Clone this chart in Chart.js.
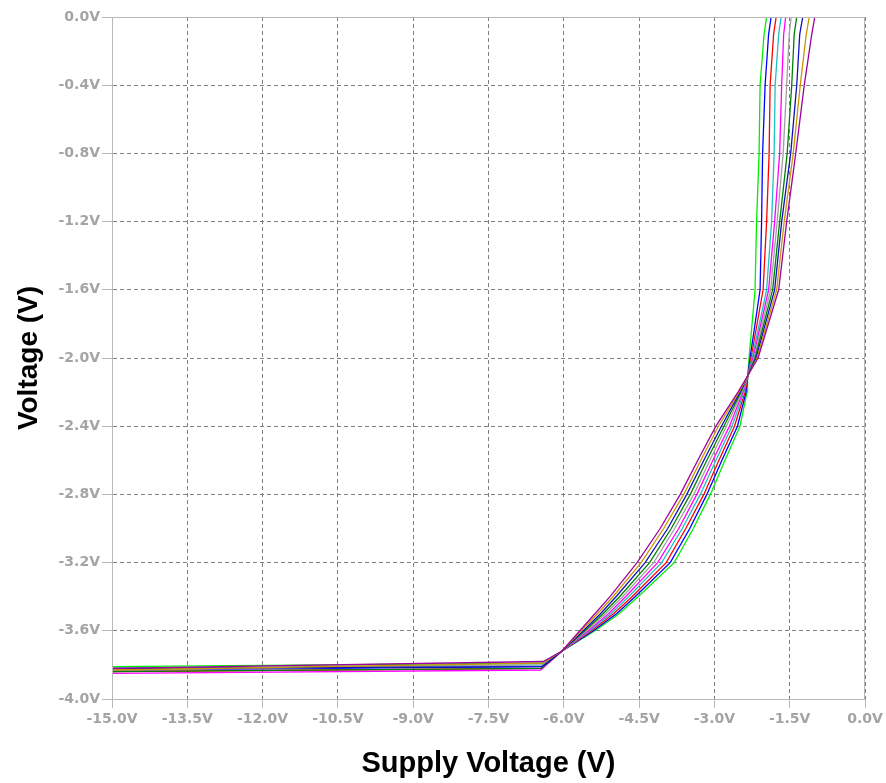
<!DOCTYPE html>
<html>
<head>
<meta charset="utf-8">
<script src="https://cdn.jsdelivr.net/npm/chart.js@4.4.1/dist/chart.umd.min.js"></script>
<style>
  html, body { margin: 0; padding: 0; background: #fff; }
  #wrap { width: 886px; height: 783px; }
</style>
</head>
<body>
<div id="wrap"><canvas id="sweep" width="886" height="783"></canvas></div>
<script>
// curve colours, left-most at the top (green) to right-most (purple)
const colors = ["#00ee00", "#0000ff", "#ff0000", "#20c0c0", "#ff00ff",
    "#a0a0a0", "#008000", "#1010c0", "#c89600", "#a000a0"];

// flat section: y at -15V and at the knee
const flatStart = [-3.81, -3.83, -3.84, -3.82, -3.85, -3.83, -3.84, -3.82, -3.83, -3.82];
const flatEnd = [-3.79, -3.81, -3.82, -3.80, -3.83, -3.80, -3.82, -3.81, -3.79, -3.78];
const kneeX = [-6.42, -6.44, -6.45, -6.43, -6.46, -6.44, -6.45, -6.43, -6.42, -6.41];

// rising section: supply voltage of each curve at these output levels
const levels = [-3.72, -3.6, -3.5, -3.4, -3.2, -3.0, -2.8, -2.6, -2.4, -2.2, -2.12, -2.0,
    -1.6, -1.2, -0.8, -0.4, -0.1, 0.0];
const xGreen   = [-6.04, -5.38, -4.90, -4.52, -3.80, -3.42, -3.08, -2.79, -2.49, -2.35, -2.34, -2.31,
    -2.19, -2.16, -2.11, -2.09, -2.01, -1.96];
const xBlue    = [-6.04, -5.41, -4.95, -4.58, -3.88, -3.49, -3.15, -2.85, -2.54, -2.37, -2.34, -2.29,
    -2.09, -2.06, -2.04, -1.99, -1.92, -1.87];
const xRed     = [-6.04, -5.45, -5.01, -4.64, -3.96, -3.57, -3.21, -2.91, -2.60, -2.39, -2.34, -2.27,
    -2.03, -1.96, -1.91, -1.89, -1.82, -1.77];
const xCyan    = [-6.04, -5.48, -5.06, -4.71, -4.05, -3.64, -3.28, -2.97, -2.65, -2.41, -2.35, -2.25,
    -1.96, -1.86, -1.81, -1.79, -1.72, -1.67];
const xMagenta = [-6.04, -5.51, -5.11, -4.77, -4.13, -3.71, -3.35, -3.03, -2.70, -2.43, -2.35, -2.23,
    -1.92, -1.80, -1.70, -1.66, -1.62, -1.58];
const xGray    = [-6.04, -5.55, -5.17, -4.83, -4.21, -3.79, -3.41, -3.09, -2.76, -2.45, -2.35, -2.21,
    -1.88, -1.75, -1.63, -1.56, -1.51, -1.47];
const xDkGreen = [-6.04, -5.58, -5.22, -4.89, -4.29, -3.86, -3.48, -3.15, -2.81, -2.47, -2.36, -2.19,
    -1.84, -1.70, -1.55, -1.46, -1.41, -1.36];
const xNavy    = [-6.04, -5.61, -5.27, -4.96, -4.38, -3.93, -3.55, -3.21, -2.86, -2.49, -2.36, -2.17,
    -1.80, -1.66, -1.48, -1.36, -1.30, -1.24];
const xGold    = [-6.04, -5.65, -5.33, -5.02, -4.46, -4.01, -3.61, -3.27, -2.92, -2.51, -2.36, -2.15,
    -1.76, -1.61, -1.43, -1.29, -1.17, -1.11];
const xPurple  = [-6.04, -5.68, -5.38, -5.08, -4.54, -4.08, -3.68, -3.33, -2.97, -2.53, -2.37, -2.13,
    -1.72, -1.56, -1.38, -1.21, -1.06, -1.00];
const curvesX = [xGreen, xBlue, xRed, xCyan, xMagenta, xGray, xDkGreen, xNavy, xGold, xPurple];

const xMin = -15, xMax = 0, xStep = 1.5;
const yMin = -4, yMax = 0, yStep = 0.4;

function volts(v) {
    let s = Number(v).toFixed(1);
    if (s === "-0.0") s = "0.0";
    return s + "V";
}

const datasets = curvesX.map(function (xs, i) {
    const pts = [{ x: xMin, y: flatStart[i] }, { x: kneeX[i], y: flatEnd[i] }];
    levels.forEach(function (lv, j) { pts.push({ x: xs[j], y: lv }); });
    pts.push({ x: xMax, y: yMax });
    return {
        data: pts,
        showLine: true,
        borderColor: colors[i],
        backgroundColor: colors[i],
        borderWidth: 1.3,
        pointRadius: 0,
        tension: 0
    };
}).reverse();

// solid light frame round the plot area
const frame = {
    id: "frame",
    afterDatasetsDraw(chart) {
        const a = chart.chartArea, ctx = chart.ctx;
        ctx.save();
        ctx.strokeStyle = "#b8b8b8";
        ctx.lineWidth = 1;
        ctx.strokeRect(a.left + 0.5, a.top + 0.5, a.right - a.left - 1, a.bottom - a.top);
        ctx.restore();
    }
};

const tickFont = { family: "'DejaVu Sans', sans-serif", size: 14, weight: "bold" };
const xTitleFont = { family: "'Liberation Sans', Arial, sans-serif", size: 29, weight: "bold" };
const yTitleFont = { family: "'Liberation Sans', Arial, sans-serif", size: 28, weight: "bold" };

new Chart("sweep", {
    type: "scatter",
    data: { datasets: datasets },
    plugins: [frame],
    options: {
        responsive: false,
        animation: false,
        layout: { padding: { left: 0, right: 21, top: 17, bottom: 0 } },
        plugins: { legend: { display: false }, tooltip: { enabled: false } },
        scales: {
            x: {
                type: "linear",
                min: xMin, max: xMax,
                afterFit(s) { s.height = 84; },
                ticks: { stepSize: xStep, color: "#a4a4a4", font: tickFont, padding: 3,
                    maxRotation: 0, autoSkip: false, callback: volts },
                grid: { color: "#808080", tickLength: 9, tickColor: "#b8b8b8", tickBorderDash: [] },
                border: { color: "#b8b8b8", width: 1, dash: [4, 3] },
                title: { display: true, text: "Supply Voltage (V)", color: "#000",
                    font: xTitleFont, padding: { top: 0, bottom: 2 } }
            },
            y: {
                type: "linear",
                min: yMin, max: yMax,
                afterFit(s) { s.width = 112; },
                ticks: { stepSize: yStep, color: "#a4a4a4", font: tickFont, padding: 2,
                    autoSkip: false, callback: volts },
                grid: { color: "#808080", tickLength: 10, tickColor: "#b8b8b8", tickBorderDash: [] },
                border: { color: "#b8b8b8", width: 1, dash: [4, 3] },
                title: { display: true, text: "Voltage (V)", color: "#000",
                    font: yTitleFont, padding: { top: 12, bottom: 0 } }
            }
        }
    }
});
</script>
</body>
</html>
